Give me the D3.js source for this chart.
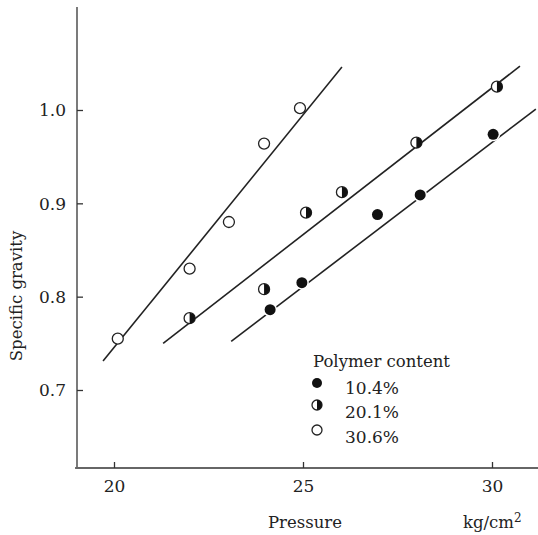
<!DOCTYPE html>
<html>
<head>
<meta charset="utf-8">
<script src="https://cdn.jsdelivr.net/npm/d3@7"></script>
<style>
  body { margin: 0; background: #fff; }
  svg text { font-family: "DejaVu Serif", serif; fill: #222; }
</style>
</head>
<body>
<svg id="chart" width="538" height="535"></svg>
<script>
// data
var series = ["10.4%", "20.1%", "30.6%"];
var styles = ["full", "half", "open"];

var p104 = [[24.13, 0.786], [24.97, 0.815], [26.97, 0.888], [28.1, 0.909], [30.03, 0.974]];
var p201 = [[22.0, 0.777], [23.97, 0.808], [25.08, 0.890], [26.03, 0.912], [28.0, 0.965], [30.13, 1.025]];
var p306 = [[20.1, 0.755], [22.0, 0.830], [23.04, 0.880], [23.97, 0.964], [24.92, 1.002]];

// fitted lines (end points)
var l104 = [[23.1, 0.752], [31.16, 1.001]];
var l201 = [[21.3, 0.750], [30.74, 1.047]];
var l306 = [[19.71, 0.731], [26.03, 1.046]];

var xTicks = [20, 25, 30];
var yTicks = [0.7, 0.8, 0.9, 1.0];

var svg = d3.select("#chart");

var x = d3.scaleLinear().domain([20, 30]).range([114, 492]);
var y = d3.scaleLinear().domain([0.7, 1.0]).range([390, 110]);

// axes
var xAxis = d3.axisBottom(x).tickValues(xTicks).tickSize(-6).tickPadding(12)
    .tickFormat(d3.format("d"));
var gx = svg.append("g").attr("transform", "translate(0,468)").call(xAxis);
gx.select(".domain").attr("d", "M" + x(18.97) + ",0H538");

var yAxis = d3.axisLeft(y).tickValues(yTicks).tickSize(-6).tickPadding(11)
    .tickFormat(d3.format(".1f"));
var gy = svg.append("g").attr("transform", "translate(77,0)").call(yAxis);
gy.select(".domain").attr("d", "M0," + y(0.6175) + "V7");

svg.selectAll(".domain, .tick line").attr("stroke", "#333").attr("stroke-width", 1.3);
svg.selectAll(".tick text").style("font-family", "'DejaVu Serif', serif")
    .style("font-size", "17px").attr("fill", "#222");
gy.selectAll(".tick text").attr("dy", "0.35em");

// axis titles
svg.append("text").attr("x", 305).attr("y", 528).attr("text-anchor", "middle")
    .style("font-size", "16.5px").text("Pressure");
svg.append("text").attr("x", 463).attr("y", 528).style("font-size", "16.5px")
    .html('kg/cm<tspan dy="-6" style="font-size:12px">2</tspan>');
svg.append("text").attr("transform", "translate(22,296) rotate(-90)")
    .attr("text-anchor", "middle").style("font-size", "16.5px").text("Specific gravity");

// fitted lines
var line = d3.line().x(function (d) { return x(d[0]); }).y(function (d) { return y(d[1]); });
[l104, l201, l306].forEach(function (l) {
    svg.append("path").attr("d", line(l)).attr("fill", "none")
        .attr("stroke", "#222").attr("stroke-width", 1.6);
});

// markers
function marker(g, cx, cy, kind, r) {
    if (kind === "full") {
        g.append("circle").attr("cx", cx).attr("cy", cy).attr("r", r + 1.5).attr("fill", "#fff");
        g.append("circle").attr("cx", cx).attr("cy", cy).attr("r", r).attr("fill", "#111");
    } else if (kind === "open") {
        g.append("circle").attr("cx", cx).attr("cy", cy).attr("r", r)
            .attr("fill", "#fff").attr("stroke", "#222").attr("stroke-width", 1.3);
    } else {
        g.append("circle").attr("cx", cx).attr("cy", cy).attr("r", r)
            .attr("fill", "#fff").attr("stroke", "#222").attr("stroke-width", 1.3);
        g.append("path")
            .attr("d", "M" + cx + "," + (cy - r) + "A" + r + "," + r + " 0 0,1 " + cx + "," + (cy + r) + "Z")
            .attr("fill", "#111");
    }
}

var pts = svg.append("g");
[p104, p201, p306].forEach(function (data, i) {
    data.forEach(function (d) { marker(pts, x(d[0]), y(d[1]), styles[i], 5.5); });
});

// legend
var leg = svg.append("g");
leg.append("text").attr("x", 313).attr("y", 367).style("font-size", "16.5px").text("Polymer content");
var legY = [383, 405, 430];
var legBase = [394, 418, 443];
series.forEach(function (s, i) {
    marker(leg, 317, legY[i], styles[i], 5);
    leg.append("text").attr("x", 345).attr("y", legBase[i]).style("font-size", "17px").text(s);
});
</script>
</body>
</html>
